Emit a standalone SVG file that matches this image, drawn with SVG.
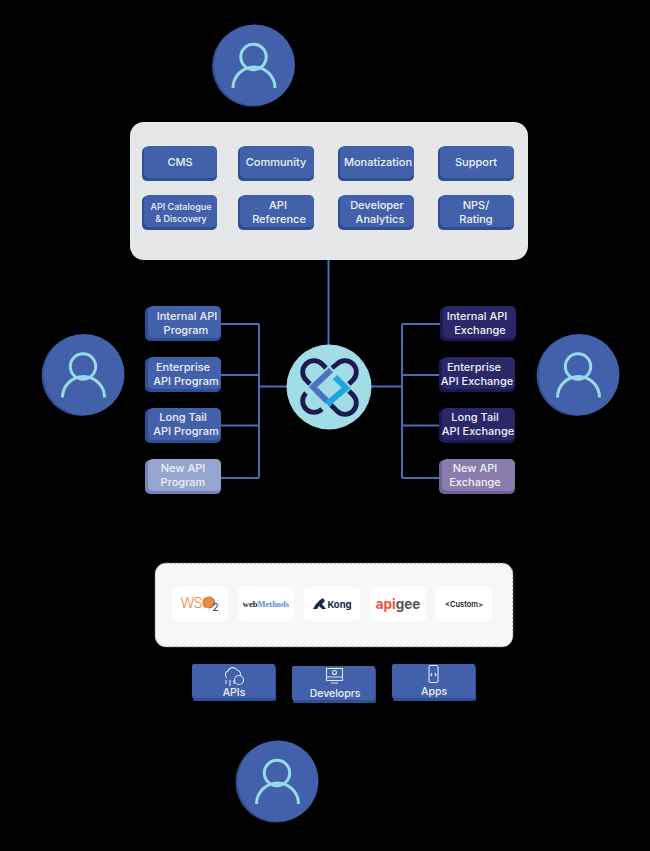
<svg xmlns="http://www.w3.org/2000/svg" width="650" height="851" viewBox="0 0 650 851">
<style>
text{font-family:"Inter","Liberation Sans",sans-serif;text-anchor:middle;fill:#eef1f8;font-size:11px;font-weight:500}
.s{fill:#2f4f94}.m{fill:#4361aa}
.ds{fill:#1b1a52}.dm{fill:#2b2768}
.ls{fill:#7385b8}.lm{fill:#95a5d0}
.ps{fill:#6f6296}.pm{fill:#8a7cad}
.line{stroke:#4a6db5;stroke-width:2;fill:none}
.ic{stroke:#dfe6f3;stroke-width:1.100;fill:none}
.logo{fill:#fff}
</style>
<defs>
<g id="person">
<circle cx="-2" cy="1" r="40.500" fill="#2f4f94"/>
<circle cx="0" cy="0" r="40.500" fill="#4361aa"/>
<circle cx="-1" cy="-8" r="12.700" fill="none" stroke="#98dbe8" stroke-width="3"/>
<path d="M-21.500 23A21 21 0 0 1 20.500 23" fill="none" stroke="#98dbe8" stroke-width="3"/>
</g>
</defs>
<rect width="650" height="851" fill="#000"/>
<g id="connectors" class="line">
<path class="line" d="M328.500 260V346"/>
<path class="line" d="M221 324H259M221 375H259M221 425.500H259M219 478H259M259 324V478M259 386.500H287"/>
<path class="line" d="M371 386.500H402M402 324V478M402 324H440M402 375H440M402 425.500H440M402 478H440"/>
</g>
<g id="user-top"><use href="#person" x="254.500" y="65"/></g>
<g id="user-left"><use href="#person" x="84" y="374.500"/></g>
<g id="user-right"><use href="#person" x="579" y="374.500"/></g>
<g id="user-bottom"><use href="#person" x="278" y="781"/></g>
<g id="portal"><rect x="130" y="122" width="398" height="138" rx="14" fill="#e6e7e9"/></g>
<g id="cms"><rect class="s" x="142" y="147" width="75" height="34" rx="5"/><rect class="m" x="144" y="146" width="73" height="32" rx="5"/><text x="180" y="166">CMS</text></g>
<g id="community"><rect class="s" x="238" y="147" width="76" height="34" rx="5"/><rect class="m" x="240" y="146" width="74" height="32" rx="5"/><text x="276" y="166">Community</text></g>
<g id="monatization"><rect class="s" x="338" y="147" width="76" height="34" rx="5"/><rect class="m" x="340" y="146" width="74" height="32" rx="5"/><text x="378" y="166">Monatization</text></g>
<g id="support"><rect class="s" x="438" y="147" width="76" height="34" rx="5"/><rect class="m" x="440" y="146" width="74" height="32" rx="5"/><text x="476" y="166">Support</text></g>
<g id="catalogue"><rect class="s" x="142" y="196" width="75" height="34" rx="5"/><rect class="m" x="144" y="195" width="73" height="32" rx="5"/><text x="181" y="210" style="font-size:9px">API Catalogue</text><text x="181" y="222" style="font-size:9px">&amp; Discovery</text></g>
<g id="reference"><rect class="s" x="238" y="196" width="76" height="34" rx="5"/><rect class="m" x="240" y="195" width="74" height="32" rx="5"/><text x="278" y="209">API</text><text x="279" y="222.500">Reference</text></g>
<g id="analytics"><rect class="s" x="338" y="196" width="76" height="34" rx="5"/><rect class="m" x="340" y="195" width="74" height="32" rx="5"/><text x="377" y="209">Developer</text><text x="380" y="223">Analytics</text></g>
<g id="nps"><rect class="s" x="438" y="196" width="76" height="34" rx="5"/><rect class="m" x="440" y="195" width="74" height="32" rx="5"/><text x="476" y="209">NPS/</text><text x="476" y="223">Rating</text></g>

<g id="internal-program"><rect class="s" x="145" y="307" width="76" height="34" rx="5"/><rect class="m" x="148" y="306" width="73" height="32" rx="5"/><text x="187" y="320">Internal API</text><text x="186" y="334">Program</text></g>
<g id="enterprise-program"><rect class="s" x="145" y="358" width="76" height="34" rx="5"/><rect class="m" x="148" y="357" width="73" height="32" rx="5"/><text x="183" y="371">Enterprise</text><text x="186" y="385">API Program</text></g>
<g id="longtail-program"><rect class="s" x="145" y="409" width="76" height="34" rx="5"/><rect class="m" x="148" y="408" width="73" height="32" rx="5"/><text x="183" y="421">Long Tail</text><text x="186" y="435">API Program</text></g>
<g id="new-program"><rect class="ls" x="145" y="460" width="76" height="34" rx="5"/><rect class="lm" x="148" y="459" width="73" height="32" rx="5"/><text x="183" y="472">New API</text><text x="183" y="486">Program</text></g>

<g id="internal-exchange"><rect class="ds" x="440" y="307" width="76" height="34" rx="5"/><rect class="dm" x="443" y="306" width="73" height="32" rx="5"/><text x="477" y="320">Internal API</text><text x="480" y="334">Exchange</text></g>
<g id="enterprise-exchange"><rect class="ds" x="439" y="358" width="76" height="34" rx="5"/><rect class="dm" x="442" y="357" width="73" height="32" rx="5"/><text x="474" y="371">Enterprise</text><text x="477" y="385">API Exchange</text></g>
<g id="longtail-exchange"><rect class="ds" x="439" y="409" width="76" height="34" rx="5"/><rect class="dm" x="442" y="408" width="73" height="32" rx="5"/><text x="475" y="421">Long Tail</text><text x="478" y="435">API Exchange</text></g>
<g id="new-exchange"><rect class="ps" x="439" y="460" width="76" height="34" rx="5"/><rect class="pm" x="442" y="459" width="73" height="32" rx="5"/><text x="475" y="472">New API</text><text x="475" y="486">Exchange</text></g>

<g id="hub">
<circle cx="329" cy="387" r="42.500" fill="#a0dde6"/>
<g fill="none" stroke="#1c1a4f" stroke-width="4.800">
<path d="M310 384L306 380A11.300 11.300 0 0 1 322 364L326 368"/>
<path d="M332 368L337 364A11.300 11.300 0 0 1 353 380L349 384"/>
<path d="M306 393A11.300 11.300 0 1 0 322 409"/>
<path d="M331 405L337 411A11.300 11.300 0 0 0 353 395L349 391"/>
</g>
<path d="M331 370L313 387L328 402" fill="none" stroke="#4e72bd" stroke-width="6"/>
<path d="M335 377L346 388L327 404" fill="none" stroke="#1ea5e0" stroke-width="6"/>
</g>

<g id="gateways">
<rect x="155" y="563" width="358" height="84" rx="11" fill="#f6f8f8" stroke="#6f7475" stroke-width="1" stroke-dasharray="2 2"/>
</g>
<g id="wso2"><rect class="logo" x="172" y="587" width="56" height="34" rx="5"/><circle cx="209" cy="602.500" r="5.500" fill="#f08a3c" stroke="#55504a" stroke-width="0.800"/><text x="196" y="607.500" style="fill:#f08a3c;font-size:14.500px;font-weight:300;letter-spacing:-1px">WSO</text><text x="215.500" y="611" style="fill:#333;font-size:10px;font-weight:400">2</text></g>
<g id="webmethods"><rect class="logo" x="238" y="587" width="56" height="34" rx="5"/><text x="266" y="607" style="font-family:'Liberation Serif',serif;font-weight:700;font-size:8.500px;fill:#222"><tspan>web</tspan><tspan fill="#4a90d0">Methods</tspan></text></g>
<g id="kong"><rect class="logo" x="304" y="587" width="56" height="34" rx="5"/><path d="M313 609L316 604L320 600L323 598L325 601L322 604L326 609H322L319 606L317 609Z" fill="#14284b"/><text x="339.500" y="607.500" style="fill:#14284b;font-weight:700;font-size:9.500px">Kong</text></g>
<g id="apigee"><rect class="logo" x="370" y="587" width="56" height="34" rx="5"/><text x="398" y="608.500" style="font-weight:700;font-size:13.500px;fill:#f0533a"><tspan>api</tspan><tspan fill="#555">gee</tspan></text></g>
<g id="custom"><rect class="logo" x="435" y="587" width="57" height="34" rx="5"/><text x="464" y="606.500" style="fill:#222;font-weight:600;font-size:7.500px">&lt;Custom&gt;</text></g>

<g id="apis"><rect class="s" x="193" y="666" width="83" height="35" rx="2"/><rect class="m" x="192" y="664" width="83" height="34" rx="2"/>
<path class="ic" d="M227 678a4 4 0 0 1 1-7a5 5 0 0 1 9-1a4 4 0 0 1 3 6M230 680v6M234 680v4M226 680v4"/><circle class="ic" cx="239" cy="680" r="4.500"/><text x="234" y="696" style="font-size:10.500px">APIs</text></g>
<g id="developrs"><rect class="s" x="293" y="668" width="83" height="35" rx="2"/><rect class="m" x="292" y="666" width="83" height="34" rx="2"/>
<rect class="ic" x="326.500" y="668.500" width="16" height="12"/><path class="ic" d="M326 677H343M331 683H338"/><circle class="ic" cx="334.500" cy="672.500" r="2"/><text x="335" y="697" style="font-size:10.500px">Developrs</text></g>
<g id="apps"><rect class="s" x="393" y="666" width="83" height="35" rx="2"/><rect class="m" x="392" y="664" width="83" height="34" rx="2"/>
<rect class="ic" x="429" y="665.500" width="9" height="17" rx="1.500"/><path class="ic" d="M432 673L431 675L432 676M435 673L436 675L435 676"/><text x="434" y="695" style="font-size:10.500px">Apps</text></g>
</svg>
